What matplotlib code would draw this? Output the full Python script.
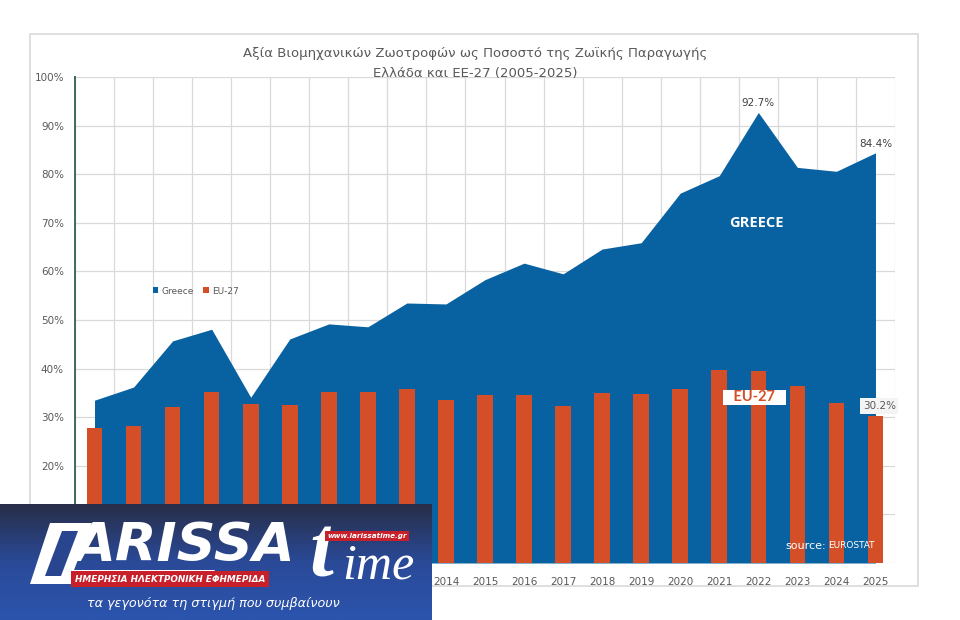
import numpy as np
import matplotlib
matplotlib.use("Agg")
import matplotlib.pyplot as plt
from matplotlib.patches import Rectangle, Polygon

years = [str(y) for y in range(2005, 2026)]
greece = [33.5, 36.2, 45.7, 48.1, 34.1, 46.1, 49.2, 48.6, 53.5, 53.3, 58.3,
          61.7, 59.5, 64.6, 65.9, 76.1, 79.7, 92.7, 81.4, 80.6, 84.4]
eu27 = [27.8, 28.2, 32.2, 35.2, 32.7, 32.6, 35.2, 35.2, 35.8, 33.5, 34.6,
        34.6, 32.4, 35.0, 34.7, 35.9, 39.7, 39.5, 36.4, 33.0, 30.2]

BLUE = "#0861a0"
ORANGE = "#d44f27"
GRAY = "#595959"

W, H = 960, 620

def fx(x):
    return x / W

def fy(y):
    return 1 - y / H

fig = plt.figure(figsize=(9.6, 6.2), dpi=100)
fig.patch.set_facecolor("white")

# outer chart frame
fig.add_artist(Rectangle((fx(30), fy(586)), fx(888), 552 / H, transform=fig.transFigure,
                         facecolor="none", edgecolor="#d9d9d9", lw=1.2, zorder=-5))

ax = fig.add_axes([fx(75), fy(563), 820 / W, 486 / H])
x = np.arange(len(years))

ax.fill_between(x, 0, greece, color=BLUE, lw=0, zorder=2, label="Greece")
ax.bar(x, eu27, width=0.4, color=ORANGE, zorder=3, label="EU-27")

ax.set_xlim(-0.5, len(years) - 0.5)
ax.set_ylim(0, 100)
ax.set_yticks(range(0, 101, 10))
ax.set_yticklabels([f"{v}%" for v in range(0, 101, 10)])
ax.set_xticks(x)
ax.set_xticklabels(years)
ax.set_xticks(np.arange(-0.5, len(years), 1), minor=True)
ax.grid(True, which="minor", axis="x", color="#d9d9d9", lw=0.9, zorder=0)
ax.grid(True, which="major", axis="y", color="#d9d9d9", lw=0.9, zorder=0)
ax.set_axisbelow(True)
ax.tick_params(axis="both", which="both", length=0, labelsize=7.5, labelcolor=GRAY)
ax.tick_params(axis="x", pad=10)
ax.tick_params(axis="y", pad=8)
for s in ["top", "right", "bottom"]:
    ax.spines[s].set_visible(False)
ax.spines["left"].set_color("#3d6b5c")
ax.spines["left"].set_linewidth(1.4)

fig.text(fx(475), fy(53), "Αξία Βιομηχανικών Ζωοτροφών ως Ποσοστό της Ζωϊκής Παραγωγής",
         ha="center", va="center", fontsize=9.5, color=GRAY)
fig.text(fx(475), fy(73), "Ελλάδα και ΕΕ-27 (2005-2025)",
         ha="center", va="center", fontsize=9.5, color=GRAY)

leg = ax.legend(loc="center", bbox_to_anchor=((196 - 75) / 820, (563 - 291) / 486), ncol=2,
                frameon=False, fontsize=6.5, handlelength=0.6, handleheight=0.6,
                handletextpad=0.4, columnspacing=1.0)
for t in leg.get_texts():
    t.set_color(GRAY)

ax.text(17, 92.7 + 1.9, "92.7%", ha="center", va="center", fontsize=7.5, color="#404040")
ax.text(20, 84.4 + 1.9, "84.4%", ha="center", va="center", fontsize=7.5, color="#404040")
ax.text(20.1, 32.3, "30.2%", ha="center", va="center", fontsize=7.5, color=GRAY, zorder=5,
        bbox=dict(boxstyle="square,pad=0.25", fc="#f4f4f4", ec="none"))
ax.text(16.96, 70.0, "GREECE", ha="center", va="center", fontsize=10.5, color="white",
        fontweight="bold", family="Open Sans", zorder=5)
ax.text(16.9, 34.1, "   EU-27   ", ha="center", va="center", fontsize=10.5, color=ORANGE,
        fontweight="bold", family="Lato", zorder=5,
        bbox=dict(boxstyle="square,pad=0.05", fc="white", ec="none"))
ax.text(18.73, 2.5, "source:", ha="right", va="bottom", fontsize=8, color="white", zorder=5)
ax.text(18.8, 2.6, "EUROSTAT", ha="left", va="bottom", fontsize=6.5, color="white", zorder=5)

# logo banner
lax = fig.add_axes([0, 0, 432 / W, 116 / H])
grad = np.linspace(0, 1, 100)[:, None]
cmap = matplotlib.colors.LinearSegmentedColormap.from_list("lg", ["#282e48", "#2a4a98", "#2c54ad"])
lax.imshow(grad, aspect="auto", cmap=cmap, extent=[0, 432, 116, 0], origin="upper")
lax.set_xlim(0, 432)
lax.set_ylim(116, 0)
lax.axis("off")
# slanted L block
lax.add_patch(Polygon([[50, 19], [92, 19], [74, 66], [215, 66], [205, 80], [30, 80]],
                      closed=True, fc="white", ec="none"))
lax.add_patch(Polygon([[62, 27], [78, 27], [61, 72], [45, 72]], closed=True, fc="#2a4590", ec="none"))
lax.text(74, 42, "ARISSA", ha="left", va="center", fontsize=39, color="white",
         fontweight="bold", style="italic", family="DejaVu Sans")
lax.text(309, 52, "t", ha="left", va="center", fontsize=62, color="white",
         style="italic", fontweight="bold", family="Liberation Serif")
lax.text(342, 62, "ime", ha="left", va="center", fontsize=36, color="white",
         style="italic", family="Liberation Serif")
lax.text(367, 32, "www.larissatime.gr", ha="center", va="center", fontsize=5.2, color="white",
         fontweight="bold", style="italic",
         bbox=dict(boxstyle="square,pad=0.3", fc="#c8202a", ec="none"))
lax.text(170, 75, "ΗΜΕΡΗΣΙΑ ΗΛΕΚΤΡΟΝΙΚΗ ΕΦΗΜΕΡΙΔΑ", ha="center", va="center", fontsize=6.4,
         color="white", fontweight="bold", style="italic",
         bbox=dict(boxstyle="square,pad=0.4", fc="#c8202a", ec="none"))
lax.text(213, 100, "τα γεγονότα τη στιγμή που συμβαίνουν", ha="center", va="center",
         fontsize=9.2, color="white", style="italic")

fig.savefig("out.png", dpi=100)
